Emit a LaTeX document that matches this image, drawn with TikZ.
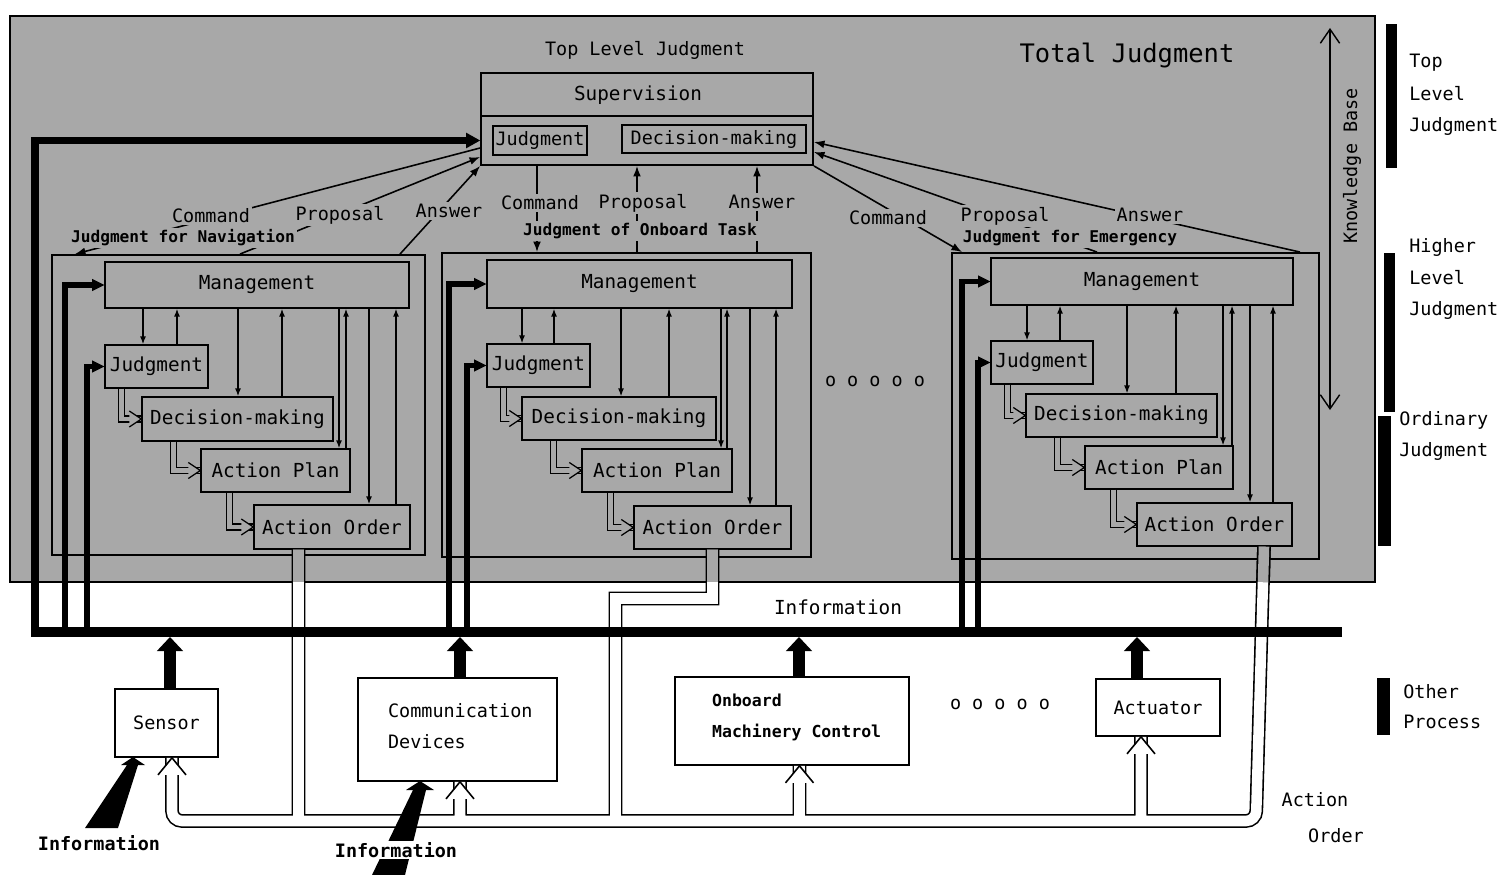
\documentclass[tikz,border=0pt]{standalone}
\usepackage{fontspec}
\setmainfont{DejaVu Sans Mono}
\usepackage{tikz}
\usetikzlibrary{arrows.meta,positioning,calc}
\definecolor{bggray}{gray}{0.66}

\begin{document}
\begin{tikzpicture}[
  x=0.02cm, y=-0.02cm,
  every node/.style={inner sep=1pt},
  mbox/.style={draw, line width=0.8pt, inner sep=0pt, font=\fontsize{11}{13}\selectfont},
  modbox/.style={draw, line width=1.1pt, inner sep=0pt},
  devbox/.style={draw, fill=white, line width=1pt, inner sep=0pt, font=\fontsize{10.5}{13}\selectfont},
  lab/.style={font=\fontsize{10.5}{13}\selectfont},
  flow/.style={fill=bggray, inner sep=1pt, font=\fontsize{10.5}{13}\selectfont},
  modlab/.style={fill=bggray, inner sep=1pt, font=\bfseries\fontsize{9.2}{11}\selectfont},
  sidelab/.style={anchor=west, inner sep=0pt, font=\fontsize{10.5}{13}\selectfont},
  biglab/.style={fill=white, inner sep=1pt, font=\bfseries\fontsize{10.5}{13}\selectfont},
  thinarr/.style={line width=0.7pt, -{Latex[length=4.5pt,width=3.4pt]}},
  flowarr/.style={line width=0.9pt, -{Latex[length=6pt,width=4.5pt]}},
  infoline/.style={line width=3.2pt, -{Triangle[length=7pt,width=7pt,line width=0pt]}},
  hollow/.style={line width=0.7pt, double=bggray, double distance=2.6pt},
  pipe/.style={line width=0.9pt, double=white, double distance=6pt},
  blockarr/.style={line width=7pt, shorten >=1mm, -{Triangle[length=8pt,width=15pt,line width=0pt]}},
  kbarr/.style={line width=0.8pt, {Straight Barb[length=8pt,width=11pt]}-{Straight Barb[length=8pt,width=11pt]}},
  rhead/.pic={\fill[bggray] (-12,-8) -- (0,0) -- (-12,8) -- cycle;
    \draw[line width=0.7pt] (-12,-8) -- (0,0) -- (-12,8);},
  uhead/.pic={\fill[white] (-14,17) -- (0,0) -- (14,17) -- cycle;
    \draw[line width=0.9pt] (-14,17) -- (0,0) -- (14,17);}
]
\useasboundingbox (0,0) rectangle (1501,875);

% judgment part
\filldraw[fill=bggray, draw=black, line width=1.2pt] (10,16) rectangle (1375,582);
\node[lab, font=\fontsize{14.5}{17}\selectfont] (total) at (1127,55) {Total Judgment};
\node[lab] (topLevel) at (645,50) {Top Level Judgment};

% supervision
\node[modbox, minimum width=66.4mm, minimum height=18.4mm] (sup) at (647,119) {};
\node[lab, font=\fontsize{11}{13}\selectfont] (supTxt) at (638,95) {Supervision};
\draw[line width=1pt] (sup.west |- 0,116) -- (sup.east |- 0,116);
\node[mbox, font=\fontsize{10.5}{13}\selectfont, minimum width=18.8mm, minimum height=5.8mm] (supJud) at (540,140.5) {Judgment};
\node[mbox, font=\fontsize{10.5}{13}\selectfont, minimum width=36.8mm, minimum height=5.6mm] (supDec) at (714,139) {Decision-making};

% judgment for navigation
\node[modbox, minimum width=74.6mm, minimum height=60mm] (navBox) at (238.5,405) {};
\node[mbox, minimum width=60.8mm, minimum height=9.2mm] (navMan) at (257,285) {Management};
\node[mbox, minimum width=20.6mm, minimum height=8.6mm] (navJud) at (156.5,366.5) {Judgment};
\node[mbox, minimum width=38.2mm, minimum height=8.8mm] (navDec) at (237.5,419) {Decision-making};
\node[mbox, minimum width=29.8mm, minimum height=8.6mm] (navPlan) at (275.5,470.5) {Action Plan};
\node[mbox, minimum width=31.2mm, minimum height=8.8mm] (navOrd) at (332,527) {Action Order};

% judgment of onboard task
\node[modbox, minimum width=73.8mm, minimum height=60.8mm] (taskBox) at (626.5,405) {};
\node[mbox, minimum width=61mm, minimum height=9.6mm] (taskMan) at (639.5,284) {Management};
\node[mbox, minimum width=20.6mm, minimum height=8.6mm] (taskJud) at (538.5,365.5) {Judgment};
\node[mbox, minimum width=38.8mm, minimum height=8.6mm] (taskDec) at (619,418.5) {Decision-making};
\node[mbox, minimum width=30mm, minimum height=8.6mm] (taskPlan) at (657,470.5) {Action Plan};
\node[mbox, minimum width=31.4mm, minimum height=8.6mm] (taskOrd) at (712.5,527.5) {Action Order};

% judgment for emergency
\node[modbox, minimum width=73.4mm, minimum height=61.2mm] (emgBox) at (1135.5,406) {};
\node[mbox, minimum width=60.4mm, minimum height=9.4mm] (emgMan) at (1142,281.5) {Management};
\node[mbox, minimum width=20.4mm, minimum height=8.6mm] (emgJud) at (1042,362.5) {Judgment};
\node[mbox, minimum width=38.2mm, minimum height=8.6mm] (emgDec) at (1121.5,415.5) {Decision-making};
\node[mbox, minimum width=29.6mm, minimum height=8.6mm] (emgPlan) at (1159,467.5) {Action Plan};
\node[mbox, minimum width=31mm, minimum height=8.6mm] (emgOrd) at (1214.5,524.5) {Action Order};

\node[lab] (midDots) at (875,381) {o o o o o};

% inside the modules
\foreach \m/\jd/\ju/\dd/\du/\pd/\pu/\od/\ou in {nav/143/177/238/282/339/346/369/396, task/522/554/621/669/721/727/750/776, emg/1027/1060/1127/1176/1223/1232/1250/1273}{
  \draw[thinarr] (\m Man.south -| \jd,0) -- (\m Jud.north -| \jd,0);
  \draw[thinarr] (\m Jud.north -| \ju,0) -- (\m Man.south -| \ju,0);
  \draw[thinarr] (\m Man.south -| \dd,0) -- (\m Dec.north -| \dd,0);
  \draw[thinarr] (\m Dec.north -| \du,0) -- (\m Man.south -| \du,0);
  \draw[thinarr] (\m Man.south -| \pd,0) -- (\m Plan.north -| \pd,0);
  \draw[thinarr] (\m Plan.north -| \pu,0) -- (\m Man.south -| \pu,0);
  \draw[thinarr] (\m Man.south -| \od,0) -- (\m Ord.north -| \od,0);
  \draw[thinarr] (\m Ord.north -| \ou,0) -- (\m Man.south -| \ou,0);
  \draw[hollow] ([xshift=3.4mm]\m Jud.south west) |- (\m Dec.west);
  \draw[hollow] ([xshift=6.4mm]\m Dec.south west) |- (\m Plan.west);
  \draw[hollow] ([xshift=5.8mm]\m Plan.south west) |- (\m Ord.west);
  \pic at (\m Dec.west) {rhead};
  \pic at (\m Plan.west) {rhead};
  \pic at (\m Ord.west) {rhead};
}

% command / proposal / answer
\draw[flowarr] (sup.west |- 0,148) -- (navBox.north -| 75,0);
\draw[flowarr] (navBox.north -| 240,0) -- (sup.west |- 0,157);
\draw[flowarr] (navBox.north -| 400,0) -- (sup.south west);
\draw[flowarr] (sup.south -| 537,0) -- (taskBox.north -| 537,0);
\draw[flowarr] (taskBox.north -| 637,0) -- (sup.south -| 637,0);
\draw[flowarr] (taskBox.north -| 757,0) -- (sup.south -| 757,0);
\draw[flowarr] (sup.south east) -- (emgBox.north -| 962,0);
\draw[flowarr] (emgBox.north -| 1097,0) -- (sup.east |- 0,152);
\draw[flowarr] (emgBox.north -| 1300,0) -- (sup.east |- 0,142);

\node[flow] (navCmd) at (211,216) {Command};
\node[flow] (navProp) at (340,215) {Proposal};
\node[flow] (navAns) at (449,211) {Answer};
\node[modlab] (navTitle) at (183,238) {Judgment for Navigation};
\node[flow] (taskCmd) at (540,203) {Command};
\node[flow] (taskProp) at (643,203) {Proposal};
\node[flow] (taskAns) at (762,202) {Answer};
\node[modlab] (taskTitle) at (640,231) {Judgment of Onboard Task};
\node[flow] (emgCmd) at (888,218) {Command};
\node[flow] (emgProp) at (1005,216) {Proposal};
\node[flow] (emgAns) at (1150,215) {Answer};
\node[modlab] (emgTitle) at (1070,238) {Judgment for Emergency};

% knowledge base
\coordinate (kbTop) at (1330,28);
\coordinate (kbBot) at (1330,410);
\draw[kbarr] (kbTop) -- (kbBot);
\node[lab, rotate=90] (kbTxt) at (1352,166) {Knowledge Base};

% levels on the right
\fill (1386,24) rectangle (1397,168);
\fill (1384,253) rectangle (1395,412);
\fill (1378,416) rectangle (1391,546);
\fill (1377,678) rectangle (1390,735);
\node[sidelab] (top1) at (1409,63) {Top};
\node[sidelab] (top2) at (1409,94) {Level};
\node[sidelab] (top3) at (1409,126) {Judgment};
\node[sidelab] (high1) at (1409,247) {Higher};
\node[sidelab] (high2) at (1409,278) {Level};
\node[sidelab] (high3) at (1409,310) {Judgment};
\node[sidelab] (ord1) at (1399,420) {Ordinary};
\node[sidelab] (ord2) at (1399,451) {Judgment};
\node[sidelab] (oth1) at (1403,692) {Other};
\node[sidelab] (oth2) at (1403,722) {Process};

% devices
\node[devbox, minimum width=20.6mm, minimum height=13.6mm] (sensor) at (166.5,723) {Sensor};
\node[devbox, minimum width=39.8mm, minimum height=20.6mm] (comm) at (457.5,729.5) {};
\node[anchor=west, align=left, font=\fontsize{10.5}{18}\selectfont] (commTxt) at (386,726) {Communication\\Devices};
\node[devbox, minimum width=46.8mm, minimum height=17.6mm] (onboard) at (792,721) {};
\node[anchor=west, align=left, font=\bfseries\fontsize{9.4}{17.6}\selectfont] (onbTxt) at (710,717.5) {Onboard\\Machinery Control};
\node[devbox, minimum width=24.8mm, minimum height=11.4mm] (act) at (1158,707.5) {Actuator};
\node[lab] (botDots) at (1000,704) {o o o o o};

% action order pipes
\draw[pipe] (sensor.south -| 172,0) [rounded corners=2mm] -- (172,821) -- (1256,821) -- (emgOrd.south -| 1264,0)
  [sharp corners] (navOrd.south -| 298.5,0) -- (298.5,821)
  (taskOrd.south -| 712.5,0) -- (712.5,598.5) -- (615.5,598.5) -- (615.5,821)
  (460,821) -- (comm.south -| 460,0)
  (799.5,821) -- (onboard.south -| 799.5,0)
  (1141,821) -- (act.south -| 1141,0);
\draw[pipe, double=bggray] (navOrd.south -| 298.5,0) -- (298.5,582);
\draw[pipe, double=bggray] (taskOrd.south -| 712.5,0) -- (712.5,582);
\draw[pipe, double=bggray] (emgOrd.south -| 1264,0) -- (1263,582);
\foreach \d/\x in {sensor/172, comm/460, onboard/799.5, act/1141}
  \pic at (\d.south -| \x,0) {uhead};
\node[lab] (actTxt1) at (1315,800) {Action};
\node[lab] (actTxt2) at (1336,836) {Order};

% information bus
\coordinate (busW) at (31,632);
\coordinate (busE) at (1342,632);
\draw[infoline, line width=4.5pt, -{Triangle[length=8pt,width=9pt,line width=0pt]}] (busW -| 35,0) |- (sup.west |- supJud);
\foreach \m/\a/\b in {nav/65/87, task/449/467, emg/962/978}{
  \draw[infoline] (busW -| \a,0) |- (\m Man.west);
  \draw[infoline] (busW -| \b,0) |- (\m Jud.west);
}
\draw[line width=5.7pt] (busW) -- (busE);
\node[lab, font=\fontsize{11}{13}\selectfont] (busInfo) at (838,607) {Information};
\foreach \d/\x in {sensor/170, comm/460, onboard/799, act/1137}
  \draw[blockarr] (\d.north -| \x,0) -- (busW -| \x,0);

% outside information
\fill (85,828) -- (118,828) -- (138,765) -- (145,765) -- (133,757) -- (121,765) -- (127,765) -- cycle;
\fill (372,875) -- (405,875) -- (426,790) -- (434,790) -- (420,781) -- (406,790) -- (413,790) -- cycle;
\node[biglab] (infoA) at (99,843) {Information};
\node[biglab] (infoB) at (396,850) {Information};
\end{tikzpicture}
\end{document}
